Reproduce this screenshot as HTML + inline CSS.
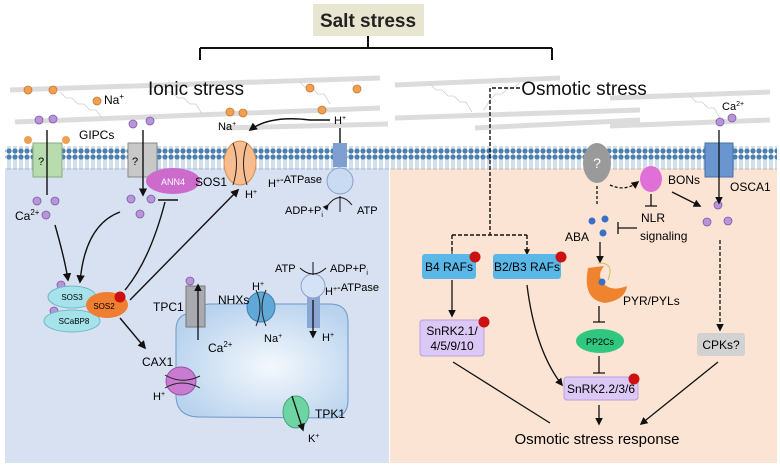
<!DOCTYPE html>
<html><head><meta charset="utf-8"><style>
body{margin:0;background:#fff}
svg{display:block;font-family:"Liberation Sans",sans-serif}
</style></head><body>
<svg width="780" height="468" viewBox="0 0 780 468">
<defs>
<marker id="ar" viewBox="0 0 10 10" refX="8" refY="5" markerWidth="6" markerHeight="6" orient="auto"><path d="M0,0L10,5L0,10z" fill="#111"/></marker>
<radialGradient id="vac" cx="0.55" cy="0.55" r="0.6"><stop offset="0" stop-color="#f4f8fd"/><stop offset="1" stop-color="#b9d3ee"/></radialGradient>
<pattern id="mem" width="6" height="22" patternUnits="userSpaceOnUse"><circle cx="3" cy="3" r="2.6" fill="#4a7fae"/><circle cx="3" cy="19" r="2.6" fill="#4a7fae"/><line x1="2" y1="5" x2="2" y2="17" stroke="#7fa6c9" stroke-width="0.7"/><line x1="4" y1="5" x2="4" y2="17" stroke="#7fa6c9" stroke-width="0.7"/></pattern>
</defs>
<!-- panels -->
<rect x="5" y="168" width="384" height="295" fill="#d8e1f1"/>
<rect x="390" y="168" width="387" height="295" fill="#fbe4d4"/>
<!-- cell wall -->
<g stroke="#dcdcdc" stroke-width="5" fill="none">
<line x1="10" y1="90" x2="380" y2="78"/><line x1="15" y1="122" x2="380" y2="108"/><line x1="225" y1="128" x2="388" y2="124"/><line x1="395" y1="85" x2="560" y2="78"/><line x1="395" y1="118" x2="640" y2="110"/><line x1="475" y1="128" x2="640" y2="120"/><line x1="610" y1="98" x2="770" y2="92"/><line x1="610" y1="126" x2="770" y2="120"/>
</g>
<g stroke="#cfcfcf" stroke-width="0.8" fill="none">
<path d="M60,92 l6,6 l6,0 l6,6 l6,0 l6,6 l6,0 l6,8"/><path d="M160,86 l6,6 l6,0 l6,6 l6,0 l6,6 l6,0 l6,10"/><path d="M430,84 l6,6 l6,0 l6,6 l6,0 l6,6 l6,0 l6,10"/><path d="M520,82 l-6,6 l-6,0 l-6,6 l-6,0 l-6,6 l-6,10"/><path d="M690,96 l6,6 l6,0 l6,6 l6,0 l6,10"/><path d="M300,82 l6,6 l6,0 l6,6 l6,0 l6,10"/>
</g>
<!-- membrane -->
<rect x="5" y="146" width="772" height="24" fill="url(#mem)"/>
<!-- title -->
<rect x="313" y="4" width="111" height="32" fill="#e8e6d0"/>
<text x="368" y="27" text-anchor="middle" font-size="19" font-weight="bold" fill="#222">Salt stress</text>
<path d="M368,36V48M200,48H552M200,48V60M552,48V60" stroke="#111" stroke-width="2" fill="none"/>
<text x="196" y="95" text-anchor="middle" font-size="19" fill="#111">Ionic stress</text>
<text x="584" y="95" text-anchor="middle" font-size="19" fill="#111">Osmotic stress</text>
<!-- Na dots outside -->
<g fill="#f0a050" stroke="#c87830" stroke-width="0.8">
<circle cx="28" cy="90" r="4"/><circle cx="53" cy="90" r="4"/><circle cx="97" cy="101" r="4"/><circle cx="230" cy="112" r="4"/><circle cx="243" cy="113" r="4"/><circle cx="310" cy="88" r="4"/><circle cx="357" cy="89" r="4"/><circle cx="322" cy="110" r="4"/>
<circle cx="252" cy="352" r="4"/><circle cx="270" cy="352" r="4"/><circle cx="236" cy="370" r="4"/><circle cx="286" cy="370" r="4"/><circle cx="263" cy="378" r="4"/>
</g>
<g fill="#b894d8" stroke="#7d5aa8" stroke-width="0.8">
<circle cx="39" cy="120" r="4"/><circle cx="53" cy="119" r="4"/><circle cx="133" cy="124" r="4"/><circle cx="150" cy="121" r="4"/>
<circle cx="37" cy="201" r="4"/><circle cx="55" cy="201" r="4"/><circle cx="46" cy="215" r="4"/><circle cx="131" cy="199" r="4"/><circle cx="151" cy="199" r="4"/><circle cx="140" cy="214" r="4"/>
<circle cx="61" cy="285" r="4"/><circle cx="54" cy="311" r="4"/><circle cx="190" cy="281" r="4"/><circle cx="200" cy="340" r="4"/><circle cx="201" cy="358" r="4"/>
<circle cx="720" cy="122" r="4"/><circle cx="732" cy="118" r="4"/><circle cx="718" cy="205" r="4"/><circle cx="707" cy="222" r="4"/><circle cx="728" cy="221" r="4"/>
</g>
<text x="104" y="104" font-size="12">Na<tspan font-size="8" dy="-5">+</tspan></text>
<text x="79" y="139" font-size="12">GIPCs</text>
<circle cx="28" cy="140" r="4" fill="#f0a050"/><circle cx="66" cy="140" r="4" fill="#f0a050"/>
<!-- channels -->
<rect x="33" y="143" width="29" height="34" fill="#b8dcae" stroke="#88a87e"/>
<text x="38" y="165" font-size="11">?</text>
<rect x="128" y="143" width="29" height="34" fill="#c8c8c8" stroke="#888"/>
<text x="132" y="165" font-size="11">?</text>
<path d="M47,130V195M143,130V195" stroke="#111" stroke-width="1.4" marker-end="url(#ar)"/>
<text x="15" y="220" font-size="12">Ca<tspan font-size="8" dy="-5">2+</tspan></text>
<ellipse cx="173" cy="181" rx="27" ry="13" fill="#cc6bcc"/>
<text x="173" y="185" text-anchor="middle" font-size="9" fill="#fff">ANN4</text>
<text x="195" y="186" font-size="12">SOS1</text>
<ellipse cx="240" cy="163" rx="16" ry="22" fill="#f7bd90" stroke="#d88a50"/>
<path d="M233,143 Q240,163 233,185M247,143 Q240,163 247,185" stroke="#222" fill="none"/>
<text x="218" y="130" font-size="11">Na<tspan font-size="7" dy="-4">+</tspan></text>
<text x="245" y="198" font-size="11">H<tspan font-size="7" dy="-4">+</tspan></text>
<path d="M340,150V128M330,120H310Q270,115 250,130" stroke="#111" stroke-width="1.4" fill="none" marker-end="url(#ar)"/>
<text x="334" y="124" font-size="11">H<tspan font-size="7" dy="-4">+</tspan></text>
<rect x="333" y="143" width="14" height="24" fill="#7f9fd0"/>
<circle cx="340" cy="181" r="13" fill="#c9daf3" stroke="#8aa0c8"/>
<text x="268" y="187" font-size="11">H<tspan font-size="7" dy="-4">+</tspan>-ATPase</text>
<path d="M328,205 Q340,190 352,205" stroke="#111" fill="none" marker-start="url(#ar)"/><path d="M340,196V212" stroke="#111"/>
<text x="285" y="214" font-size="11">ADP+P<tspan font-size="7" dy="3">i</tspan></text>
<text x="357" y="214" font-size="11">ATP</text>
<!-- arrows to SOS -->
<path d="M55,225 Q65,260 68,280" stroke="#111" stroke-width="1.4" fill="none" marker-end="url(#ar)"/>
<path d="M120,212 Q85,225 80,282" stroke="#111" stroke-width="1.4" fill="none" marker-end="url(#ar)"/>
<path d="M125,290 Q150,260 165,202M158,200H178" stroke="#111" stroke-width="1.4" fill="none"/>
<path d="M130,300 L238,190" stroke="#111" stroke-width="1.4" marker-end="url(#ar)"/>
<path d="M120,318 L145,348" stroke="#111" stroke-width="1.4" marker-end="url(#ar)"/>
<ellipse cx="72" cy="297" rx="24" ry="11" fill="#a6e2ea" stroke="#70b8c8"/><text x="72" y="300" text-anchor="middle" font-size="8">SOS3</text>
<ellipse cx="72" cy="321" rx="28" ry="11" fill="#a6e2ea" stroke="#70b8c8"/><text x="74" y="324" text-anchor="middle" font-size="8">SCaBP8</text>
<ellipse cx="107" cy="305" rx="21" ry="13" fill="#f07e30"/><text x="104" y="309" text-anchor="middle" font-size="8">SOS2</text>
<circle cx="120" cy="297" r="5.5" fill="#cc1111"/>
<!-- vacuole -->
<path d="M190,313 Q190,305 210,304 L330,304 Q348,304 348,322 L348,400 Q348,418 330,418 L200,417 Q176,417 176,395 L176,330 Q176,315 190,313z" fill="url(#vac)" stroke="#6c98c8"/>
<rect x="186" y="286" width="19" height="41" fill="#a9a9b0" stroke="#777"/>
<path d="M198,340V285" stroke="#111" stroke-width="1.3" marker-end="url(#ar)"/>
<text x="153" y="311" font-size="12">TPC1</text>
<text x="208" y="352" font-size="12">Ca<tspan font-size="8" dy="-5">2+</tspan></text>
<ellipse cx="261" cy="307" rx="14" ry="15" fill="#5fa8d8" stroke="#3e80b0"/>
<path d="M256,290 Q264,307 256,326M266,290 Q258,307 266,326" stroke="#222" fill="none"/>
<text x="218" y="304" font-size="12">NHXs</text>
<text x="252" y="290" font-size="11">H<tspan font-size="7" dy="-4">+</tspan></text>
<text x="264" y="342" font-size="11">Na<tspan font-size="7" dy="-4">+</tspan></text>
<rect x="307" y="296" width="13" height="32" fill="#8aa6d6"/>
<circle cx="313" cy="286" r="12" fill="#d4e2f5" stroke="#8aa0c8"/>
<path d="M313,300V337" stroke="#111" stroke-width="1.3" marker-end="url(#ar)"/>
<path d="M300,268 Q313,280 326,268" stroke="#111" fill="none"/><path d="M313,262V275" stroke="#111"/>
<text x="275" y="272" font-size="11">ATP</text><text x="330" y="272" font-size="11">ADP+P<tspan font-size="7" dy="3">i</tspan></text>
<text x="325" y="295" font-size="11">H<tspan font-size="7" dy="-4">+</tspan>-ATPase</text>
<text x="322" y="341" font-size="11">H<tspan font-size="7" dy="-4">+</tspan></text>
<ellipse cx="181" cy="381" rx="15" ry="14" fill="#c87bd0" stroke="#9a50a8"/>
<path d="M165,375 Q182,385 200,376M165,388 Q182,378 200,388" stroke="#222" fill="none"/>
<text x="142" y="366" font-size="12">CAX1</text>
<text x="153" y="400" font-size="11">H<tspan font-size="7" dy="-4">+</tspan></text>
<ellipse cx="296" cy="412" rx="13" ry="16" fill="#6fd4a4" stroke="#40a878"/>
<path d="M292,396L303,430" stroke="#111" stroke-width="1.3" marker-end="url(#ar)"/>
<text x="315" y="418" font-size="12">TPK1</text><text x="308" y="442" font-size="11">K<tspan font-size="7" dy="-4">+</tspan></text>
<!-- osmotic -->
<path d="M520,88H490V235M452,235H527M452,235V252M527,235V252" stroke="#111" stroke-width="1.4" stroke-dasharray="4,2" fill="none"/>
<path d="M452,248V254M527,248V254" stroke="#111" marker-end="url(#ar)"/>
<ellipse cx="597" cy="163" rx="14" ry="20" fill="#9a9a9a"/>
<text x="597" y="168" text-anchor="middle" font-size="14" fill="#fff">?</text>
<path d="M597,186V206M610,185Q625,192 638,182" stroke="#111" stroke-width="1.3" stroke-dasharray="3,2" fill="none" marker-end="url(#ar)"/>
<ellipse cx="651" cy="179" rx="11" ry="13" fill="#e070d8"/>
<text x="668" y="184" font-size="12">BONs</text>
<path d="M651,194V206M645,206H657M637,228H618M618,222V234" stroke="#111" stroke-width="1.3"/>
<text x="641" y="222" font-size="12">NLR</text><text x="640" y="240" font-size="12">signaling</text>
<circle cx="592" cy="221" r="3.5" fill="#3a6fc8"/><circle cx="605" cy="219" r="3.5" fill="#3a6fc8"/><circle cx="603" cy="233" r="3.5" fill="#3a6fc8"/>
<text x="565" y="241" font-size="12">ABA</text>
<path d="M600,242V262" stroke="#111" stroke-width="1.3" marker-end="url(#ar)"/>
<rect x="705" y="143" width="28" height="34" fill="#6a96d0" stroke="#4a70a8"/>
<path d="M719,130V203" stroke="#111" stroke-width="1.3" marker-end="url(#ar)"/>
<text x="722" y="110" font-size="11">Ca<tspan font-size="7" dy="-4">2+</tspan></text>
<text x="730" y="191" font-size="12">OSCA1</text>
<path d="M672,192L700,206" stroke="#111" stroke-width="1.3" marker-end="url(#ar)"/>
<path d="M720,240V330" stroke="#111" stroke-width="1.3" stroke-dasharray="4,2" marker-end="url(#ar)"/>
<rect x="422" y="254" width="54" height="25" rx="3" fill="#5ab8e8"/>
<text x="449" y="271" text-anchor="middle" font-size="12">B4 RAFs</text><circle cx="475" cy="257" r="5.5" fill="#cc1111"/>
<rect x="493" y="254" width="68" height="25" rx="3" fill="#5ab8e8"/>
<text x="527" y="271" text-anchor="middle" font-size="12">B2/B3 RAFs</text><circle cx="561" cy="257" r="5.5" fill="#cc1111"/>
<path d="M452,280V316" stroke="#111" stroke-width="1.3" marker-end="url(#ar)"/>
<rect x="420" y="320" width="64" height="36" rx="3" fill="#dcc8f5" stroke="#b8a0e0"/>
<text x="452" y="335" text-anchor="middle" font-size="12">SnRK2.1/</text><text x="452" y="350" text-anchor="middle" font-size="12">4/5/9/10</text>
<circle cx="484" cy="322" r="5.5" fill="#cc1111"/>
<path d="M527,285Q535,350 562,385" stroke="#111" stroke-width="1.3" fill="none" marker-end="url(#ar)"/>
<path d="M588,268 Q582,300 605,303 Q625,300 627,286 Q612,292 604,284 Q596,276 604,266z" fill="#f0842e"/>
<path d="M598,263 Q615,262 608,280" stroke="#c8c060" fill="none"/><circle cx="602" cy="282" r="3.5" fill="#3a6fc8"/>
<text x="623" y="305" font-size="12">PYR/PYLs</text>
<path d="M599,306V322M593,322H605M599,356V373M593,373H605" stroke="#111" stroke-width="1.3"/>
<ellipse cx="600" cy="341" rx="24" ry="12" fill="#30c880"/>
<text x="600" y="345" text-anchor="middle" font-size="9">PP2Cs</text>
<rect x="564" y="377" width="74" height="23" rx="3" fill="#dcc8f5" stroke="#b8a0e0"/>
<text x="601" y="393" text-anchor="middle" font-size="12">SnRK2.2/3/6</text><circle cx="634" cy="379" r="5.5" fill="#cc1111"/>
<path d="M599,405V424" stroke="#111" stroke-width="1.3" marker-end="url(#ar)"/>
<rect x="697" y="333" width="48" height="23" rx="3" fill="#d2d2d2"/>
<text x="721" y="349" text-anchor="middle" font-size="12">CPKs?</text>
<path d="M453,362L550,423M718,362L641,424" stroke="#111" stroke-width="1.3" marker-end="url(#ar)"/>
<text x="597" y="444" text-anchor="middle" font-size="15">Osmotic stress response</text>
</svg>
</body></html>
